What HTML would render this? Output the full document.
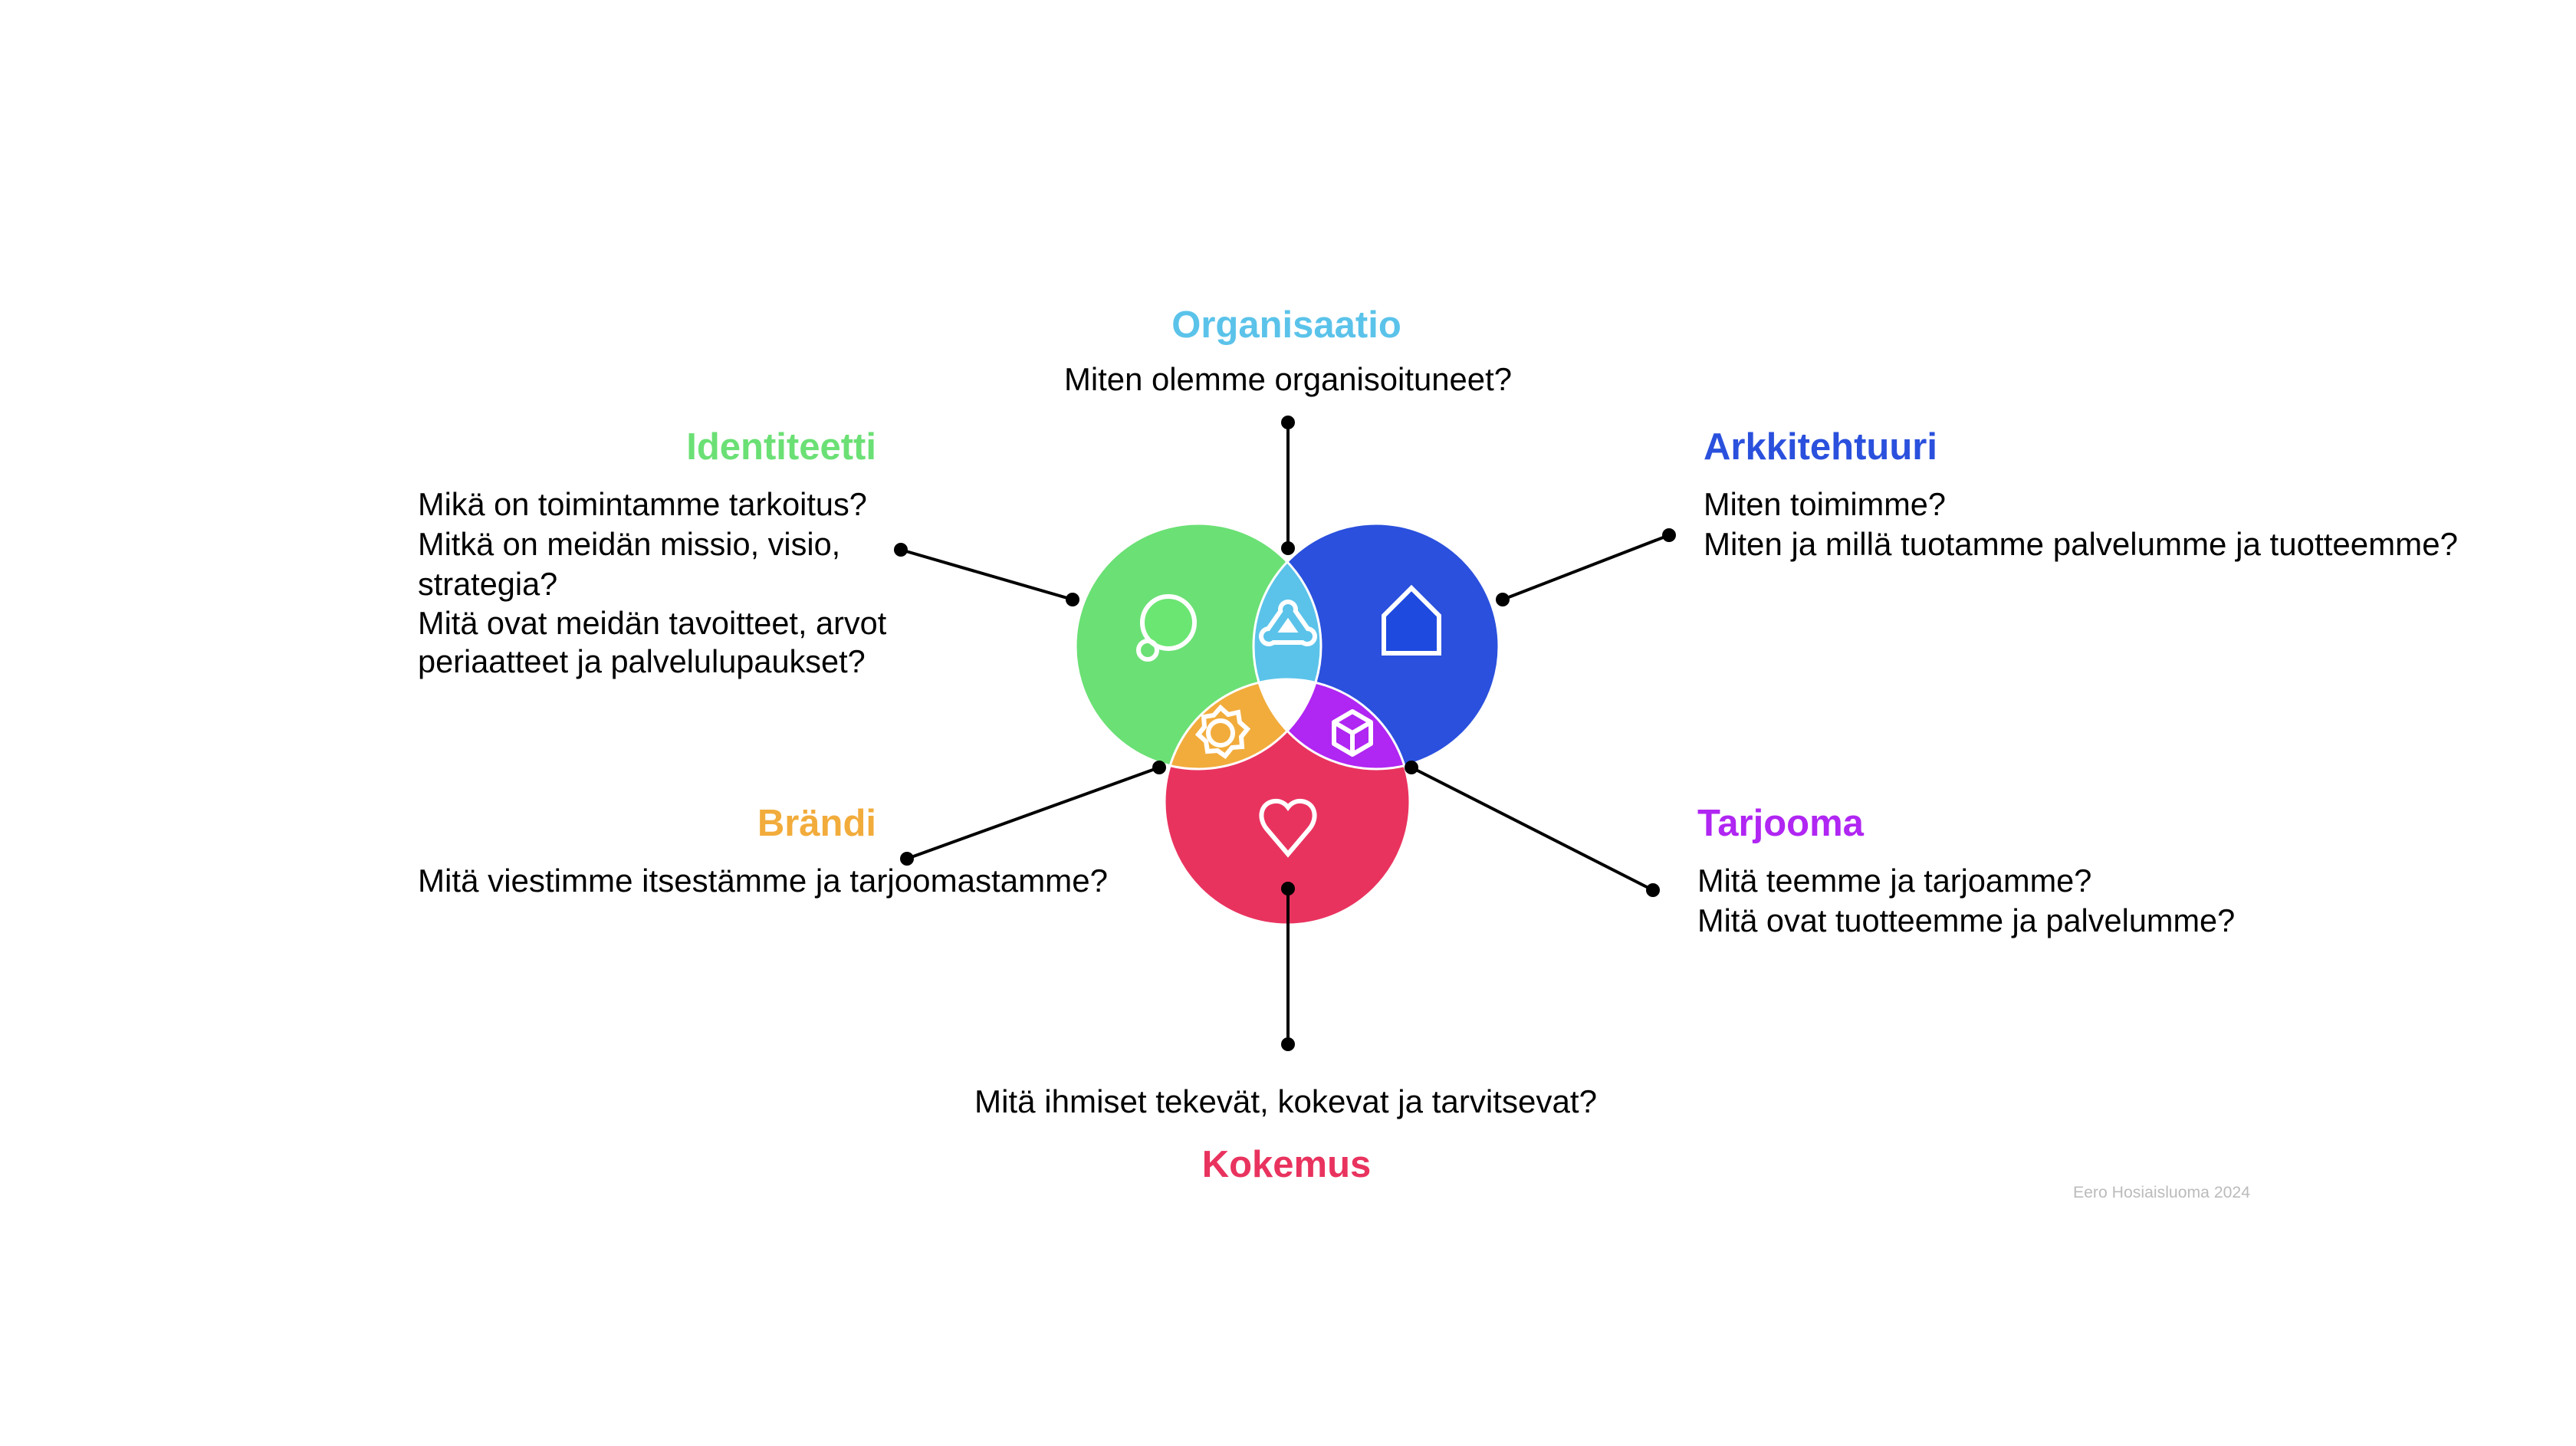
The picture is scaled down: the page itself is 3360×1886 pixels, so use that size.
<!DOCTYPE html>
<html><head><meta charset="utf-8"><style>
html,body{margin:0;padding:0;background:#fff;}
svg{display:block}
text{font-family:"Liberation Sans",Arial,sans-serif;}
.h{font-weight:bold;font-size:49px}
.b{font-size:41.5px;fill:#000}
</style></head><body>
<svg width="3360" height="1886" viewBox="0 0 3360 1886" xmlns="http://www.w3.org/2000/svg">
<defs>
<clipPath id="cg"><circle cx="1563" cy="843" r="160"/></clipPath>
<clipPath id="cb"><circle cx="1795" cy="843" r="160"/></clipPath>
</defs>
<g stroke="#000" stroke-width="4">
<line x1="1680" y1="551" x2="1680" y2="715"/>
<line x1="1175" y1="717" x2="1399" y2="782"/>
<line x1="2177" y1="698" x2="1960" y2="782"/>
<line x1="1183" y1="1120" x2="1512" y2="1001"/>
<line x1="2156" y1="1161" x2="1841" y2="1001"/>
</g>
<circle cx="1563" cy="843" r="160" fill="#6BE075"/>
<circle cx="1795" cy="843" r="160" fill="#2A50DD"/>
<circle cx="1679" cy="1046" r="160" fill="#E9335F"/>
<g clip-path="url(#cg)"><circle cx="1795" cy="843" r="160" fill="#5BC3EA"/><circle cx="1679" cy="1046" r="160" fill="#F2AC3C"/></g>
<g clip-path="url(#cb)"><circle cx="1679" cy="1046" r="160" fill="#B026F2"/></g>
<g clip-path="url(#cg)"><g clip-path="url(#cb)"><circle cx="1679" cy="1046" r="160" fill="#fff"/></g></g>
<g fill="none" stroke="#fff" stroke-width="3">
<circle cx="1563" cy="843" r="160"/><circle cx="1795" cy="843" r="160"/><circle cx="1679" cy="1046" r="160"/>
</g>
<line x1="1680" y1="1159" x2="1680" y2="1362" stroke="#000" stroke-width="4"/>
<g fill="#000">
<circle cx="1680" cy="551" r="9"/><circle cx="1680" cy="715" r="9"/>
<circle cx="1175" cy="717" r="9"/><circle cx="1399" cy="782" r="9"/>
<circle cx="2177" cy="698" r="9"/><circle cx="1960" cy="782" r="9"/>
<circle cx="1183" cy="1120" r="9"/><circle cx="1512" cy="1001" r="9"/>
<circle cx="2156" cy="1161" r="9"/><circle cx="1841" cy="1001" r="9"/>
<circle cx="1680" cy="1159" r="9"/><circle cx="1680" cy="1362" r="9"/>
</g>
<g fill="none" stroke="#fff" stroke-width="6">
<circle cx="1524" cy="812" r="34" fill="#6BE673"/>
<circle cx="1497" cy="848" r="12"/>
<path d="M1805 803 L1841 767 L1877 803 L1877 852 L1805 852 Z" fill="#1E4AE0"/>
<circle cx="1592" cy="956" r="16"/>
<path d="M1592 923 L1602 932 L1615 929 L1617 942 L1627 951 L1619 961 L1620 974 L1607 975 L1598 986 L1588 979 L1575 980 L1573 967 L1563 958 L1571 948 L1570 935 L1583 933 Z"/>
<path d="M1764 928 L1788 942 L1788 970 L1764 984 L1740 970 L1740 942 Z M1740 942 L1764 956 L1788 942 M1764 956 L1764 984" stroke-linejoin="round"/>
<path d="M1680 1114 L1652 1081 C1640 1066 1645 1047 1662 1045 C1671 1044 1677 1049 1680 1053 C1683 1049 1689 1044 1698 1045 C1715 1047 1720 1066 1708 1081 Z" stroke-linejoin="miter"/>
</g>
<g>
<path d="M1680 797 L1657 830 L1703 830 Z" stroke="#fff" stroke-width="22" stroke-linejoin="round" fill="#fff"/>
<circle cx="1680" cy="795" r="13" fill="#fff"/><circle cx="1655" cy="830" r="13" fill="#fff"/><circle cx="1705" cy="830" r="13" fill="#fff"/>
<path d="M1680 797 L1657 830 L1703 830 Z" stroke="#5BC3EA" stroke-width="10" stroke-linejoin="round" fill="none"/>
<circle cx="1680" cy="795" r="7" fill="#5BC3EA"/><circle cx="1655" cy="830" r="7" fill="#5BC3EA"/><circle cx="1705" cy="830" r="7" fill="#5BC3EA"/>
<path d="M1680 810 L1670 823 L1690 823 Z" fill="#fff"/>
</g>
<text class="h" x="1678" y="440" text-anchor="middle" fill="#5BC3EA">Organisaatio</text>
<text class="b" x="1680" y="509" text-anchor="middle" textLength="584" lengthAdjust="spacingAndGlyphs">Miten olemme organisoituneet?</text>

<text class="h" x="1143" y="599" text-anchor="end" fill="#6BE075">Identiteetti</text>
<text class="b" x="545" y="672">Mikä on toimintamme tarkoitus?</text>
<text class="b" x="545" y="724">Mitkä on meidän missio, visio,</text>
<text class="b" x="545" y="776">strategia?</text>
<text class="b" x="545" y="827">Mitä ovat meidän tavoitteet, arvot</text>
<text class="b" x="545" y="877">periaatteet ja palvelulupaukset?</text>

<text class="h" x="2222" y="599" fill="#2A50DD">Arkkitehtuuri</text>
<text class="b" x="2222" y="672">Miten toimimme?</text>
<text class="b" x="2222" y="724" textLength="984" lengthAdjust="spacingAndGlyphs">Miten ja millä tuotamme palvelumme ja tuotteemme?</text>

<text class="h" x="1143" y="1090" text-anchor="end" fill="#F2AC3C">Brändi</text>
<text class="b" x="545" y="1163" textLength="900" lengthAdjust="spacingAndGlyphs">Mitä viestimme itsestämme ja tarjoomastamme?</text>

<text class="h" x="2214" y="1090" fill="#B026F2">Tarjooma</text>
<text class="b" x="2214" y="1163">Mitä teemme ja tarjoamme?</text>
<text class="b" x="2214" y="1215">Mitä ovat tuotteemme ja palvelumme?</text>

<text class="b" x="1677" y="1451" text-anchor="middle" textLength="812" lengthAdjust="spacingAndGlyphs">Mitä ihmiset tekevät, kokevat ja tarvitsevat?</text>
<text class="h" x="1678" y="1535" text-anchor="middle" fill="#E9335F">Kokemus</text>

<text x="2704" y="1562" font-size="21" fill="#bbb" textLength="231" lengthAdjust="spacingAndGlyphs">Eero Hosiaisluoma 2024</text>
</svg>
</body></html>
